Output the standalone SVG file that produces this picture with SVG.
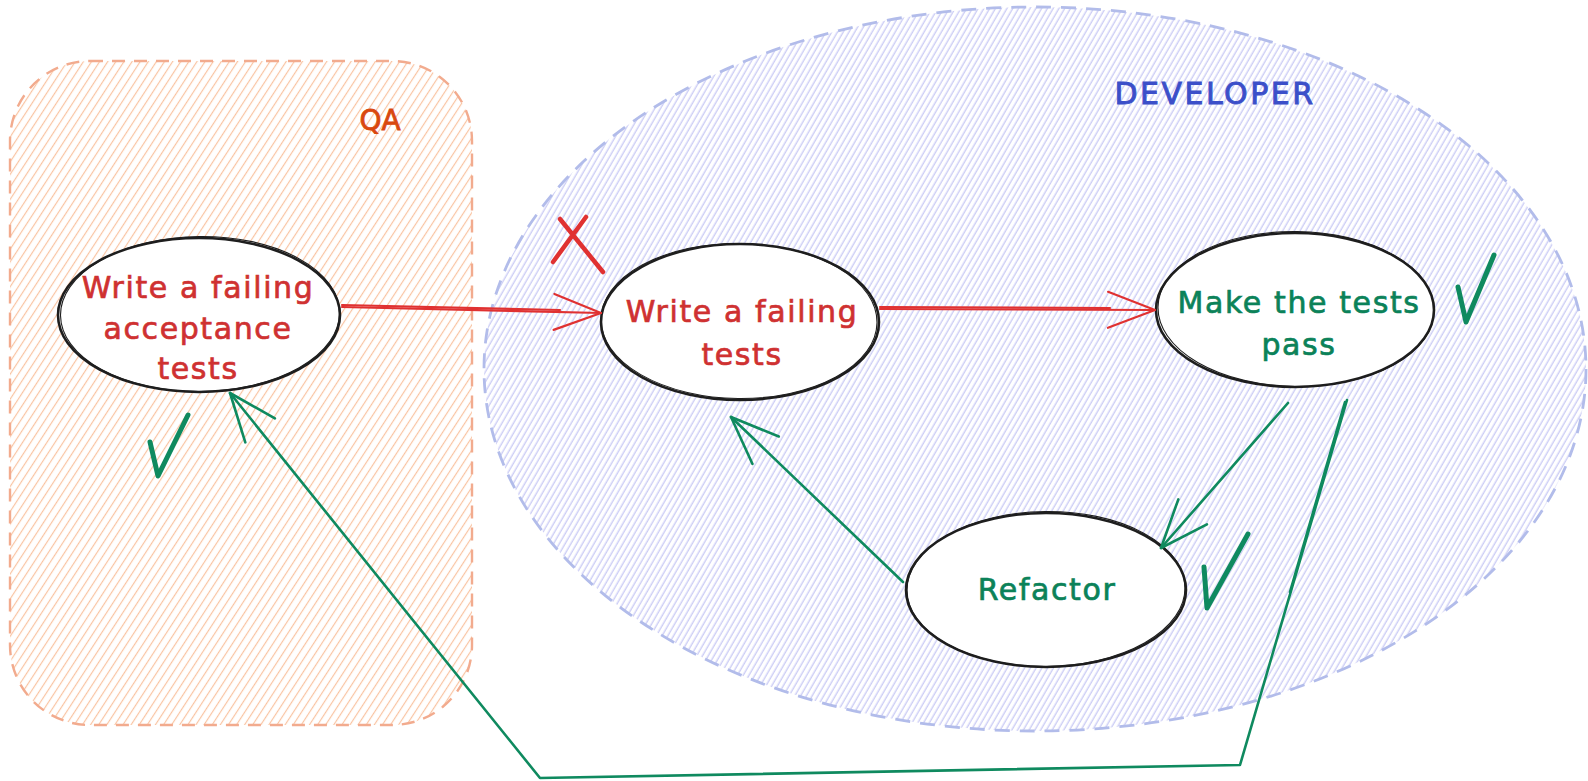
<svg xmlns="http://www.w3.org/2000/svg" width="1588" height="781" viewBox="0 0 1588 781">
  <defs>
    <style>
      .label { font-family: "DejaVu Sans", "Liberation Sans", sans-serif; font-size: 30px; letter-spacing: 1.6px; text-anchor: middle; stroke-width: 0.7px; }
      .red { fill: #cf3131; stroke: #cf3131; }
      .green { fill: #0b8259; stroke: #0b8259; }
      .node-fill { fill: #ffffff; stroke: #1e1e1e; stroke-width: 2.6; }
      .node-sketch { fill: none; stroke: #1e1e1e; stroke-width: 1.1; }
      .arrow-red { fill: none; stroke: #e03131; stroke-width: 2.2; stroke-linecap: round; stroke-linejoin: round; }
      .arrow-green { fill: none; stroke: #0f8a5f; stroke-width: 2.6; stroke-linecap: round; stroke-linejoin: round; }
      .mark-green { fill: none; stroke: #0f8a5f; stroke-width: 5; stroke-linecap: round; stroke-linejoin: round; }
      .mark-red { fill: none; stroke: #e03131; stroke-width: 4.5; stroke-linecap: round; }
    </style>
    <pattern id="hatch-qa" patternUnits="userSpaceOnUse" width="6.8" height="20" patternTransform="rotate(33)">
      <line x1="1.5" y1="0" x2="1.5" y2="20" stroke="#f9c3a1" stroke-width="1.2"/>
    </pattern>
    <pattern id="hatch-dev" patternUnits="userSpaceOnUse" width="5" height="20" patternTransform="rotate(30)">
      <line x1="1.2" y1="0" x2="1.2" y2="20" stroke="#b6b8f1" stroke-width="1"/>
    </pattern>
    <marker id="head-red" markerUnits="userSpaceOnUse" markerWidth="60" markerHeight="60" viewBox="-55 -30 60 60" refX="0" refY="0" orient="auto" overflow="visible">
      <path d="M -47 -18 L 0 0 L -47 18" fill="none" stroke="#e03131" stroke-width="2.2" stroke-linecap="round" stroke-linejoin="round"/>
    </marker>
    <marker id="head-green" markerUnits="userSpaceOnUse" markerWidth="60" markerHeight="60" viewBox="-55 -30 60 60" refX="0" refY="0" orient="auto" overflow="visible">
      <path d="M -48 -19 L 0 0 L -48 19" fill="none" stroke="#0f8a5f" stroke-width="2.6" stroke-linecap="round" stroke-linejoin="round"/>
    </marker>
  </defs>

  <rect width="1588" height="781" fill="#ffffff"/>

  <!-- QA swimlane -->
  <g id="region-qa">
    <rect x="10" y="61" width="462" height="664" rx="80" ry="80" fill="url(#hatch-qa)" stroke="#f2ab8e" stroke-width="2.4" stroke-dasharray="13 9"/>
    <text x="380" y="130" font-family="DejaVu Sans, Liberation Sans, sans-serif" font-size="28" fill="#d9480f" stroke="#d9480f" stroke-width="0.8" text-anchor="middle">QA</text>
  </g>

  <!-- Developer swimlane -->
  <g id="region-dev">
    <ellipse cx="1035" cy="369" rx="551" ry="362" fill="url(#hatch-dev)" stroke="#b2bcea" stroke-width="2.8" stroke-dasharray="15 10"/>
    <text x="1215" y="104" font-family="DejaVu Sans, Liberation Sans, sans-serif" font-size="30" letter-spacing="2.5" fill="#3b4fc9" stroke="#3b4fc9" stroke-width="0.9" text-anchor="middle">DEVELOPER</text>
  </g>

  <!-- Process steps -->
  <g id="node-acceptance">
    <ellipse class="node-fill" cx="199" cy="315" rx="141" ry="77"/>
    <ellipse class="node-sketch" cx="200" cy="314" rx="139.5" ry="77.5" transform="rotate(-0.6 200 314)"/>
    <text class="label red" x="198" y="298">Write a failing</text>
    <text class="label red" x="198" y="339">acceptance</text>
    <text class="label red" x="198" y="379">tests</text>
  </g>

  <g id="node-failing">
    <ellipse class="node-fill" cx="740" cy="322" rx="139" ry="78"/>
    <ellipse class="node-sketch" cx="739" cy="321" rx="138" ry="77.5" transform="rotate(0.7 739 321)"/>
    <text class="label red" x="742" y="322">Write a failing</text>
    <text class="label red" x="742" y="365">tests</text>
  </g>

  <g id="node-pass">
    <ellipse class="node-fill" cx="1295" cy="310" rx="139" ry="77"/>
    <ellipse class="node-sketch" cx="1296" cy="309" rx="138" ry="77.5" transform="rotate(0.8 1296 309)"/>
    <text class="label green" x="1299" y="313">Make the tests</text>
    <text class="label green" x="1299" y="355">pass</text>
  </g>

  <g id="node-refactor">
    <ellipse class="node-fill" cx="1046" cy="590" rx="140" ry="77"/>
    <ellipse class="node-sketch" cx="1046" cy="589" rx="139" ry="77.5" transform="rotate(-0.6 1046 589)"/>
    <text class="label green" x="1047" y="600">Refactor</text>
  </g>

  <!-- Connectors -->
  <g id="connectors">
    <path class="arrow-red" d="M 342 307 L 601 313" marker-end="url(#head-red)"/>
    <path class="arrow-red" d="M 342 305 L 560 310" stroke-width="1"/>
    <path class="arrow-red" d="M 880 309 L 1155 310" marker-end="url(#head-red)"/>
    <path class="arrow-red" d="M 880 307 L 1110 308" stroke-width="1"/>
    <path class="arrow-green" d="M 903 582 L 731 417" marker-end="url(#head-green)"/>
    <path class="arrow-green" d="M 1288 403 L 1161 548" marker-end="url(#head-green)"/>
    <path class="arrow-green" d="M 1347 400 L 1240 765 L 540 778 L 230 393" marker-end="url(#head-green)"/>
    <path class="arrow-green" d="M 1345 402 L 1290 592" stroke-width="1"/>
  </g>

  <!-- Status marks -->
  <g id="marks">
    <path class="mark-red" d="M 560 219 L 603 272 M 586 217 L 553 262"/>
    <path class="mark-green" d="M 150 442 L 158 476 L 188 415"/>
    <path class="mark-green" d="M 1458 287 L 1466 322 L 1494 255"/>
    <path class="mark-green" d="M 1204 567 L 1207 608 L 1248 534"/>
  </g>
</svg>
